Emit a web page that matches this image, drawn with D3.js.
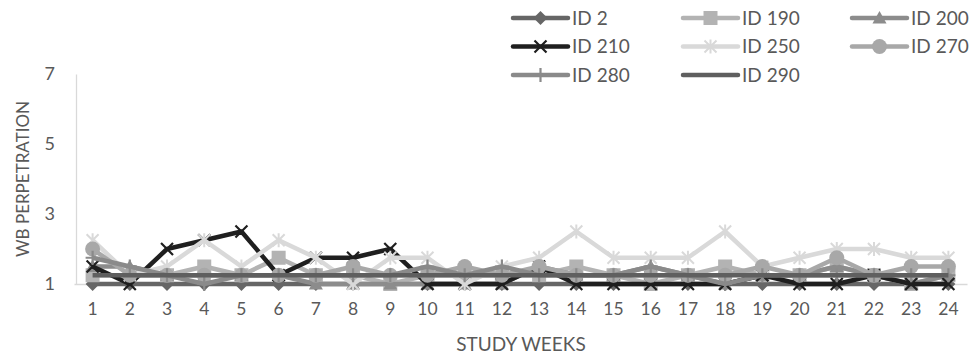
<!DOCTYPE html>
<html>
<head>
<meta charset="utf-8">
<script src="https://cdn.jsdelivr.net/npm/d3@7"></script>
<style>
  html, body { margin: 0; padding: 0; background: #fff; }
  svg { display: block; font-family: Lato, "Open Sans", sans-serif; }
</style>
</head>
<body>
<svg id="chart" width="979" height="362"></svg>
<script>
// Weekly WB perpetration scores per participant
const weeks = d3.range(1, 25);
const yTicks = [1, 3, 5, 7];

const id2   = [1,1,1,1,1,1,1,1,1,1,1,1,1,1,1,1,1,1,1,1,1,1,1,1];
const id190 = [1.25,1.25,1.25,1.5,1.25,1.75,1.25,1.25,1,1.25,1.25,1.25,1.25,1.5,1.25,1,1.25,1.5,1.25,1.25,1.5,1.25,1,1.25];
const id200 = [1.5,1.5,1.25,1.25,1.25,1.25,1,1,1,1,1,1,1.5,1.25,1.25,1.5,1.25,1,1.25,1.25,1.5,1.25,1,1.25];
const id210 = [1.5,1,2,2.25,2.5,1.25,1.75,1.75,2,1,1,1,1.5,1,1,1,1,1,1.25,1,1,1.25,1,1];
const id250 = [2.25,1.25,1.5,2.25,1.5,2.25,1.75,1,1.75,1.75,1,1.5,1.75,2.5,1.75,1.75,1.75,2.5,1.5,1.75,2,2,1.75,1.75];
const id270 = [2,1.25,1.25,1.25,1.25,1.25,1.25,1.5,1.25,1.25,1.5,1.25,1.5,1.25,1.25,1.25,1.25,1.25,1.5,1.25,1.75,1.25,1.5,1.5];
const id280 = [1.75,1.5,1.25,1,1.25,1.25,1.25,1.25,1.25,1.5,1.25,1.5,1.25,1.25,1.25,1.5,1.25,1,1.25,1.25,1.25,1.25,1.25,1.25];
const id290 = [1.25,1.25,1.25,1.25,1.25,1.25,1.25,1.25,1.25,1.25,1.25,1.25,1.25,1.25,1.25,1.25,1.25,1.25,1.25,1.25,1.25,1.25,1.25,1.25];

const seriesNames = ["ID 2","ID 190","ID 200","ID 210","ID 250","ID 270","ID 280","ID 290"];
const seriesValues = [id2, id190, id200, id210, id250, id270, id280, id290];
const seriesColors = ["#666666","#b3b3b3","#8c8c8c","#1f1f1f","#d9d9d9","#a8a8a8","#8a8a8a","#5f5f5f"];
const seriesMarkers = ["diamond","square","triangle","x","asterisk","circle","plus","none"];

const svg = d3.select("#chart");
const x = d3.scaleBand().domain(weeks).range([74, 967]);
const y = d3.scaleLinear().domain([1, 7]).range([284, 74]);
const cx = d => x(d) + x.bandwidth() / 2;

const axisColor = "#d9d9d9";
const textColor = "#595959";

// axes
const gx = svg.append("g").attr("transform", `translate(0,${y(1)})`)
  .call(d3.axisBottom(x).tickSize(0).tickPadding(19));
gx.select(".domain").attr("stroke", axisColor).attr("stroke-width", 1.3);
gx.selectAll("text").attr("fill", textColor).style("font-size", "17.5px").style("font-family", "Lato, sans-serif");

const gy = svg.append("g").attr("transform", `translate(${x.range()[0] + 2},0)`)
  .call(d3.axisLeft(y).tickValues(yTicks).tickFormat(d3.format("d")).tickSize(0).tickPadding(21));
gy.select(".domain").attr("stroke", axisColor).attr("stroke-width", 1.3);
gy.selectAll("text").attr("fill", textColor).style("font-size", "18px").style("font-family", "Lato, sans-serif");

// axis titles
svg.append("text").attr("x", 521).attr("y", 351).attr("text-anchor", "middle")
  .attr("fill", textColor).style("font-size", "19px").text("STUDY WEEKS");
svg.append("text").attr("transform", "translate(29,179) rotate(-90)").attr("text-anchor", "middle")
  .attr("fill", textColor).style("font-size", "17px").text("WB PERPETRATION");

function drawMarker(g, type, color, px, py) {
  const s = 7;
  if (type === "diamond") {
    g.append("path").attr("d", `M${px},${py - s} L${px + s},${py} L${px},${py + s} L${px - s},${py} Z`).attr("fill", color);
  } else if (type === "square") {
    g.append("rect").attr("x", px - s).attr("y", py - s).attr("width", 2 * s).attr("height", 2 * s).attr("fill", color);
  } else if (type === "triangle") {
    g.append("path").attr("d", `M${px},${py - s} L${px + s},${py + s * 0.8} L${px - s},${py + s * 0.8} Z`).attr("fill", color);
  } else if (type === "circle") {
    g.append("circle").attr("cx", px).attr("cy", py).attr("r", s + 0.5).attr("fill", color);
  } else if (type === "x") {
    const k = 6;
    g.append("path").attr("d", `M${px - k},${py - k} L${px + k},${py + k} M${px - k},${py + k} L${px + k},${py - k}`)
      .attr("stroke", color).attr("stroke-width", 2.2);
  } else if (type === "asterisk") {
    const k = 6;
    g.append("path").attr("d", `M${px - k},${py - k} L${px + k},${py + k} M${px - k},${py + k} L${px + k},${py - k} M${px},${py - k - 1} L${px},${py + k + 1}`)
      .attr("stroke", color).attr("stroke-width", 2);
  } else if (type === "plus") {
    const k = 7;
    g.append("path").attr("d", `M${px},${py - k} L${px},${py + k} M${px - k},${py} L${px + k},${py}`)
      .attr("stroke", color).attr("stroke-width", 2.2);
  }
}

// series lines and markers
const line = d3.line().x((d, i) => cx(weeks[i])).y(d => y(d));
const plot = svg.append("g");
seriesValues.forEach((vals, si) => {
  const g = plot.append("g");
  g.append("path").datum(vals).attr("d", line).attr("fill", "none")
    .attr("stroke", seriesColors[si]).attr("stroke-width", 4.5).attr("stroke-linejoin", "round");
  vals.forEach((v, i) => drawMarker(g, seriesMarkers[si], seriesColors[si], cx(weeks[i]), y(v)));
});

// legend
const legCols = [513, 683, 852];
const legRows = [18, 46.5, 75];
seriesNames.forEach((name, si) => {
  const lx = legCols[si % 3], ly = legRows[Math.floor(si / 3)];
  const g = svg.append("g");
  g.append("line").attr("x1", lx).attr("x2", lx + 55).attr("y1", ly).attr("y2", ly)
    .attr("stroke", seriesColors[si]).attr("stroke-width", 4.5).attr("stroke-linecap", "round");
  drawMarker(g, seriesMarkers[si], seriesColors[si], lx + 27.5, ly);
  g.append("text").attr("x", lx + 59).attr("y", ly).attr("dy", "0.35em")
    .attr("fill", textColor).style("font-size", "19px").text(name);
});
</script>
</body>
</html>
